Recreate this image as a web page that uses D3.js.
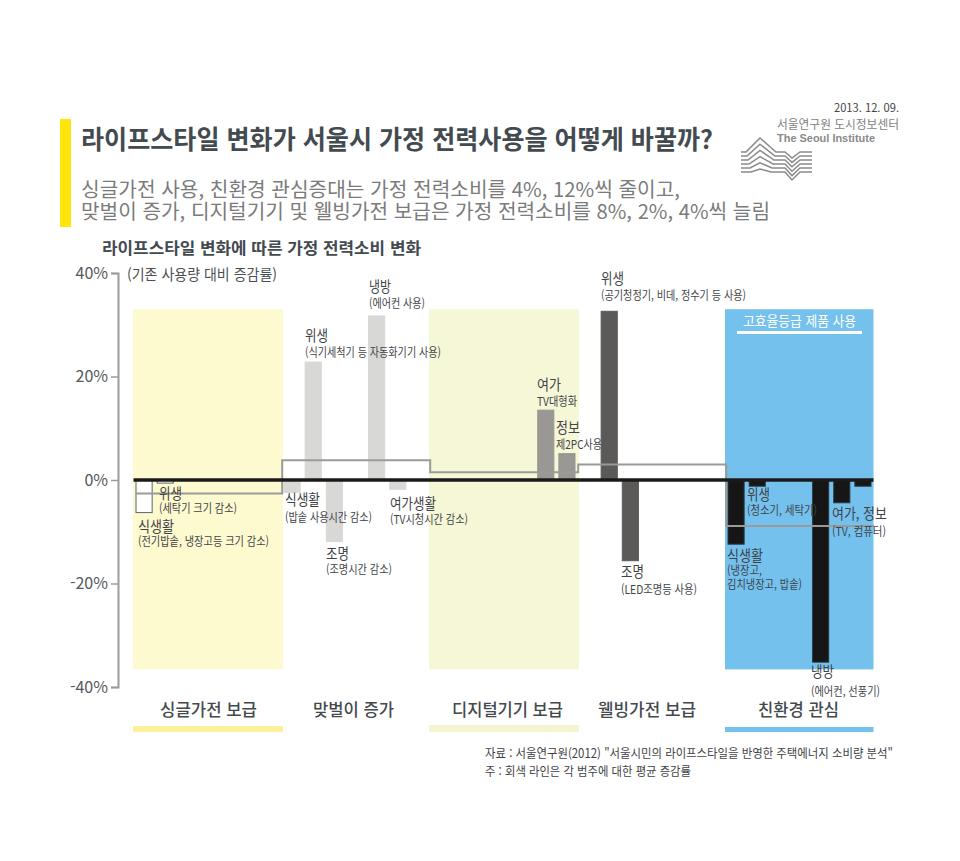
<!DOCTYPE html>
<html lang="ko">
<head>
<meta charset="utf-8">
<title>라이프스타일 변화</title>
<script src="https://d3js.org/d3.v7.min.js"></script>
<style>
  html, body { margin: 0; padding: 0; background: #fff; }
  svg { display: block; }
  text { font-family: "Noto Sans CJK KR", "Noto Sans", sans-serif; }
</style>
</head>
<body>
<div id="my_dataviz"></div>
<script>

// one slot per bar, empty slots keep the gaps between the bars
const slots = ["s1", "s2", "", "", "", "", "",
               "d1", "d2", "d3", "", "d4", "d5", "",
               "", "", "", "", "", "g1", "g2",
               "", "w1", "w2", "", "", "", "",
               "e1", "e2", "", "", "e3", "e4", "e5"];
const barValues = [-6.3, -0.6, null, null, null, null, null,
                   -2.4, 22.8, -11.9, null, 31.7, -1.8, null,
                   null, null, null, null, null, 13.5, 5.1,
                   null, 32.6, -15.6, null, null, null, null,
                   -12.4, -1.2, null, null, -35.2, -4.4, -1.2];
const barGroups = [0, 0, 0, 0, 0, 0, 0, 1, 1, 1, 1, 1, 1, 1, 2, 2, 2, 2, 2, 2, 2,
                   3, 3, 3, 3, 3, 3, 3, 4, 4, 4, 4, 4, 4, 4];

const groupNames = ["싱글가전 보급", "맞벌이 증가", "디지털기기 보급", "웰빙가전 보급", "친환경 관심"];
const groupMeans = [-2.6, 3.8, 1.5, 3.0, -8.9];
const yTicks = [40, 20, 0, -20, -40];

const barNames = ["식생활", "위생", "식생활", "위생", "조명", "냉방", "여가생활", "여가", "정보",
                  "위생", "조명", "식생활", "위생", "여가, 정보", "냉방"];
const barNotes = ["(전기밥솥, 냉장고등 크기 감소)", "(세탁기 크기 감소)", "(밥솥 사용시간 감소)",
                  "(식기세척기 등 자동화기기 사용)", "(조명시간 감소)", "(에어컨 사용)", "(TV시청시간 감소)",
                  "TV대형화", "제2PC사용", "(공기청정기, 비데, 정수기 등 사용)", "(LED조명등 사용)",
                  "(냉장고,", "(청소기, 세탁기)", "(TV, 컴퓨터)", "(에어컨, 선풍기)"];

// layout only: x, name baseline, name width, note baseline, note width
const labelLayout = [
  [138, 532, 36, 546, 131], [159, 499, 23, 513, 78], [285, 505, 35, 522, 87],
  [305, 341, 23, 357, 136], [326, 559, 23, 574, 66], [369, 292, 22, 308, 56],
  [390, 509, 46, 524, 78], [537, 390, 24, 406, 40], [556, 433, 24, 449, 46],
  [601, 284, 23, 300, 145], [621, 577, 23, 594, 76], [727, 561, 36, 575, 35],
  [747, 500, 23, 515, 70], [832, 519, 55, 536, 54], [811, 677, 23, 696, 69]
];
const groupColors = ["#fefad0", "none", "#f5f7d6", "none", "#74c1ee"];
const stripColors = ["#fdf09c", "none", "#f3f5d0", "none", "#74c1ee"];
const stripTops = [726, 0, 725, 0, 727];
const groupLabelX = [[160, 97], [313, 81], [452, 111], [598, 98], [758, 81]];
const barFill = ["#ffffff", "#d8d8d6", "#9a9894", "#5c5a58", "#161616"];
const barStroke = ["#5d6369", "#d8d8d6", "#9a9894", "#5c5a58", "#2a3a48"];

const svg = d3.select("#my_dataviz").append("svg")
    .attr("width", 960)
    .attr("height", 861);

// text helper, width is forced so the long Korean lines end where they should
function label(txt, x, y, size, width, color, weight) {
  return svg.append("text")
    .attr("x", x)
    .attr("y", y)
    .attr("textLength", width)
    .attr("lengthAdjust", "spacingAndGlyphs")
    .style("font-size", size + "px")
    .style("font-weight", weight || 400)
    .style("fill", color)
    .text(txt);
}

const x = d3.scaleBand().domain(d3.range(slots.length)).range([133.5, 873.5]);
const y = d3.scaleLinear().domain([-40, 40]).range([687, 273]);

// header
svg.append("rect").attr("x", 60).attr("y", 119).attr("width", 11).attr("height", 108).attr("fill", "#ffe60a");
label("라이프스타일 변화가 서울시 가정 전력사용을 어떻게 바꿀까?", 81, 149, 26, 632, "#434a50", 700);
label("싱글가전 사용, 친환경 관심증대는 가정 전력소비를 4%, 12%씩 줄이고,", 81, 197, 20, 599, "#7b7b7b");
label("맞벌이 증가, 디지털기기 및 웰빙가전 보급은 가정 전력소비를 8%, 2%, 4%씩 늘림", 81, 219, 20, 689, "#7b7b7b");
label("라이프스타일 변화에 따른 가정 전력소비 변화", 102, 254, 16, 319, "#434a50", 700);
label("(기존 사용량 대비 증감률)", 127, 280, 14.5, 150, "#4a4f54");

label("2013. 12. 09.", 834, 112, 11.5, 65, "#444");
label("서울연구원 도시정보센터", 777, 129, 12, 122, "#7f7f7f");
label("The Seoul Institute", 777, 142, 11, 98, "#8a8a8a", 700).style("font-family", '"Liberation Sans"');

// logo lines
const logoLine = d3.line();
d3.range(6).forEach(function(k) {
  const flat = 152 + 4 * k;
  const peak = 138 + 6.2 * k;
  const dip = flat + 6 + 0.4 * k;
  svg.append("path")
    .attr("d", logoLine([[741, flat], [746 + k, flat], [760, peak], [776 - k, flat],
                         [785, flat], [792, dip], [800, flat], [812, flat]]))
    .attr("fill", "none")
    .attr("stroke", "#8a8a8a")
    .attr("stroke-width", 1.5);
});

// background bands, the strips under the group names, the group names
groupNames.forEach(function(name, i) {
  const ids = d3.range(slots.length).filter(function(s) { return barGroups[s] === i; });
  const x0 = x(ids[0]) - 0.5;
  const x1 = x(ids[ids.length - 1]) + x.step() + (i === 4 ? 0 : 1.5);
  if (groupColors[i] !== "none") {
    svg.append("rect").attr("x", x0).attr("y", y(33)).attr("width", x1 - x0)
      .attr("height", y(-36.6) - y(33)).attr("fill", groupColors[i]);
    svg.append("rect").attr("x", x0).attr("y", stripTops[i]).attr("width", x1 - x0)
      .attr("height", 732 - stripTops[i]).attr("fill", stripColors[i]);
  }
  label(name, groupLabelX[i][0], 716, 16.5, groupLabelX[i][1], "#44494e", 500);
});

// y axis
const yAxis = svg.append("g")
    .attr("transform", "translate(118,0)")
    .call(d3.axisLeft(y).tickValues(yTicks).tickSize(7).tickFormat(function(d) { return d + "%"; }));
yAxis.select(".domain").attr("stroke", "#9c9c9a").attr("stroke-width", 2);
yAxis.selectAll(".tick line").attr("stroke", "#9c9c9a").attr("stroke-width", 1.5);
yAxis.selectAll(".tick text")
    .attr("x", -10)
    .style("font-size", "16px")
    .style("font-family", '"Noto Sans CJK KR"')
    .style("fill", "#55595c");

// bars
const barData = d3.range(slots.length).filter(function(s) { return barValues[s] !== null; });
svg.selectAll("rect.bar")
  .data(barData)
  .join("rect")
    .attr("class", "bar")
    .attr("x", function(d) { return x(d) + 2.5; })
    .attr("width", x.bandwidth() - 5)
    .attr("y", function(d) { return y(Math.max(0, barValues[d])); })
    .attr("height", function(d) { return Math.abs(y(barValues[d]) - y(0)); })
    .attr("fill", function(d) { return barFill[barGroups[d]]; })
    .attr("stroke", function(d) { return barStroke[barGroups[d]]; })
    .attr("stroke-width", 1);

// grey line of the group means
const meanPoints = [];
groupMeans.forEach(function(v, i) {
  const ids = d3.range(slots.length).filter(function(s) { return barGroups[s] === i; });
  meanPoints.push([x(ids[0]) + (i === 0 ? 2 : 0.7), y(v)]);
  meanPoints.push([x(ids[ids.length - 1]) + x.step() + 0.7, y(v)]);
});
svg.append("path")
    .attr("d", d3.line()(meanPoints))
    .attr("fill", "none")
    .attr("stroke", "#9a9a98")
    .attr("stroke-width", 2);

// zero line
svg.append("line")
    .attr("x1", x.range()[0]).attr("x2", x.range()[1])
    .attr("y1", y(0)).attr("y2", y(0))
    .attr("stroke", "#1a1a1a")
    .attr("stroke-width", 3.5);

// bar labels
barNames.forEach(function(name, i) {
  const l = labelLayout[i];
  label(name, l[0], l[1], 15, l[2], "#3f4347");
  label(barNotes[i], l[0], l[3], 12, l[4], "#3f4347");
});
label("김치냉장고, 밥솥)", 727, 589, 12, 75, "#3f4347");

// the efficient products note on the blue band
label("고효율등급 제품 사용", 743, 326, 14, 113, "#ffffff");
svg.append("rect").attr("x", 737).attr("y", 331).attr("width", 125).attr("height", 3).attr("fill", "#ffffff");

// source
label("자료 : 서울연구원(2012) \"서울시민의 라이프스타일을 반영한 주택에너지 소비량 분석\"", 485, 758, 12.5, 408, "#3f4347");
label("주 : 회색 라인은 각 범주에 대한 평균 증감률", 485, 776, 12.5, 206, "#3f4347");

</script>
</body>
</html>
